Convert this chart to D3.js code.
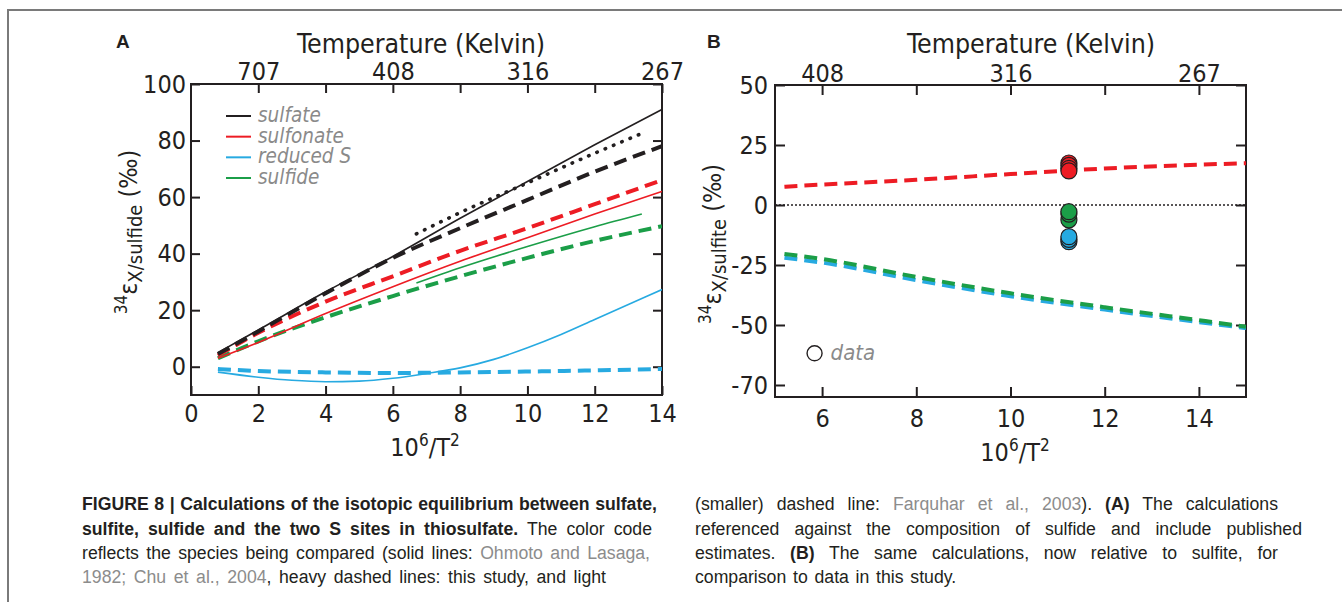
<!DOCTYPE html>
<html>
<head>
<meta charset="utf-8">
<script src="https://cdn.jsdelivr.net/npm/d3@7"></script>
<style>
  body { margin: 0; background: #fff; }
  svg { display: block; }
</style>
</head>
<body>
<div id="fig"></div>
<script>
// ---- panel A: epsilon relative to sulfide ----
const xA = [0.8, 2, 4, 6, 8, 10, 12, 14];
const sulfateOhmoto   = [5, 13, 26.5, 39, 52.5, 65.5, 78.5, 91];
const sulfateStudy    = [4.5, 12.5, 26, 38.5, 49, 59, 69, 78];
const sulfonateOhmoto = [3, 8.6, 18.8, 28.3, 37.3, 45.6, 54, 62];
const sulfonateStudy  = [4, 12, 23, 32, 41, 49, 57.5, 66];
const sulfideStudy    = [3, 9, 17.5, 25, 32, 38.5, 44.5, 49.7];
const reducedStudy    = [-0.8, -1.5, -2, -2.2, -2, -1.7, -1.3, -0.8];

const xReduced = [0.8, 2, 3, 4, 5, 6, 7, 8, 9, 10, 11, 12, 13, 14];
const reducedOhmoto = [-1.9, -3.7, -4.8, -5.3, -5.1, -4.1, -2.4, -0.4, 2.6, 6.7, 11.4, 16.7, 22, 27.3];

const xShort = [6.7, 8, 10, 12, 13.4];
const sulfateFarquhar = [47, 54.5, 65, 75.5, 82.5];
const sulfideOhmoto   = [29.6, 35, 42.5, 49.5, 54];

const legendNames = ["sulfate", "sulfonate", "reduced S", "sulfide"];

const xTicksA = [0, 2, 4, 6, 8, 10, 12, 14];
const yTicksA = [0, 20, 40, 60, 80, 100];
const tempTicksA = [2, 4, 6, 8, 10, 12, 14];
const tempLabelsA = ["707", "", "408", "", "316", "", "267"];

// ---- panel B: epsilon relative to sulfite ----
const xB = [5.2, 6, 8, 10, 12, 14, 15];
const sulfonateB = [7.6, 8.5, 10.5, 12.9, 15.2, 16.8, 17.4];
const sulfideB   = [-20.4, -22.5, -30, -36.8, -42.6, -48, -50.7];
const reducedB   = [-22, -24, -31.3, -38, -43.6, -48.8, -51.3];

const dataX = 11.24;
const dataRed   = [17.5, 16.5, 15.3, 14.2];
const dataGreen = [-6.2, -3.8, -2.8];
const dataBlue  = [-15.3, -14.3, -13.2];

const xTicksB = [6, 8, 10, 12, 14];
const yTicksB = [50, 25, 0, -25, -50, -75];
const yLabelsB = ["50", "25", "0", "-25", "-50", "-70"];
const tempTicksB = [6, 8, 10, 12, 14];
const tempLabelsB = ["408", "", "316", "", "267"];

const col = { black: "#231f20", red: "#ed1c24", blue: "#27aae1", green: "#1b9e48", gray: "#8a8a8a" };
const chartFont = "'DejaVu Sans Condensed', 'DejaVu Sans', sans-serif";

const W = 1342, H = 602;
const svg = d3.select("#fig").append("svg")
  .attr("width", W).attr("height", H)
  .style("font-family", chartFont);

svg.append("rect").attr("width", W).attr("height", H).attr("fill", "#fff");
svg.append("path")
  .attr("d", `M8,${H} V10 H${W}`)
  .attr("fill", "none").attr("stroke", "#7a7a7a").attr("stroke-width", 2);

function makePanel(o) {
  const g = svg.append("g");
  const x = d3.scaleLinear().domain(o.xDomain).range([o.left, o.right]);
  const y = d3.scaleLinear().domain(o.yDomain).range([o.bottom, o.top]);

  const styleAxis = sel => {
    sel.select(".domain").remove();
    sel.selectAll("line").attr("stroke", col.black).attr("stroke-width", 2);
    sel.selectAll("text").attr("fill", col.black).style("font-size", "25px").style("font-family", chartFont);
  };

  g.append("g").attr("transform", `translate(0,${o.bottom})`)
    .call(d3.axisBottom(x).tickValues(o.xTicks).tickSize(-o.tick).tickPadding(o.padB).tickFormat(d => d))
    .call(styleAxis);
  g.append("g").attr("transform", `translate(0,${o.top})`)
    .call(d3.axisTop(x).tickValues(o.tTicks).tickSize(-o.tick).tickPadding(o.padT)
      .tickFormat((d, i) => o.tLabels[i]))
    .call(styleAxis);
  g.append("g").attr("transform", `translate(${o.left},0)`)
    .call(d3.axisLeft(y).tickValues(o.yTicks).tickSize(-o.tick).tickPadding(o.padL)
      .tickFormat((d, i) => o.yLabels[i]))
    .call(styleAxis);
  g.append("g").attr("transform", `translate(${o.right},0)`)
    .call(d3.axisRight(y).tickValues(o.yTicks).tickSize(-o.tick).tickFormat(""))
    .call(styleAxis);

  g.append("rect")
    .attr("x", o.left).attr("y", o.top)
    .attr("width", o.right - o.left).attr("height", o.bottom - o.top)
    .attr("fill", "none").attr("stroke", col.black).attr("stroke-width", 2);

  // titles
  g.append("text").attr("x", o.titleX).attr("y", 53).attr("text-anchor", "middle")
    .style("font-size", "26.5px").attr("fill", col.black).text("Temperature (Kelvin)");

  const xt = g.append("text").attr("x", o.xTitleX).attr("y", o.xTitleY).attr("text-anchor", "middle")
    .style("font-size", "25px").attr("fill", col.black);
  xt.append("tspan").text("10");
  xt.append("tspan").attr("dy", -10).style("font-size", "17px").text("6");
  xt.append("tspan").attr("dy", 10).text("/T");
  xt.append("tspan").attr("dy", -10).style("font-size", "17px").text("2");

  const yt = g.append("text")
    .attr("transform", `translate(${o.yTitleX},${o.yTitleY}) rotate(-90)`)
    .attr("text-anchor", "middle").style("font-size", "25px").attr("fill", col.black);
  yt.append("tspan").attr("dy", -10).style("font-size", "17px").text("34");
  yt.append("tspan").attr("dy", 10).text("ε");
  yt.append("tspan").attr("dy", 5).style("font-size", "20px").text(o.sub);
  yt.append("tspan").attr("dy", -5).text(" (‰)");

  g.append("text").attr("x", o.letterX).attr("y", 48)
    .style("font-family", "'Liberation Sans', Arial, sans-serif")
    .style("font-size", "19px").style("font-weight", "bold").attr("fill", col.black).text(o.letter);

  const clip = "clip" + o.letter;
  g.append("clipPath").attr("id", clip).append("rect")
    .attr("x", o.left).attr("y", o.top).attr("width", o.right - o.left).attr("height", o.bottom - o.top);
  const plot = g.append("g").attr("clip-path", `url(#${clip})`);
  return { g, plot, x, y };
}

function drawLine(p, xs, ys, color, kind) {
  const line = d3.line().x((d, i) => p.x(xs[i])).y(d => p.y(d)).curve(d3.curveMonotoneX);
  const path = p.plot.append("path").datum(ys).attr("d", line)
    .attr("fill", "none").attr("stroke", color);
  if (kind === "solid") path.attr("stroke-width", 1.6);
  if (kind === "dash") path.attr("stroke-width", 4).attr("stroke-dasharray", "13,7");
  if (kind === "dot") path.attr("stroke-width", 3.6).attr("stroke-dasharray", "0.5,8.5").attr("stroke-linecap", "round");
  return path;
}

// ---- panel A ----
const pA = makePanel({
  letter: "A", letterX: 116,
  left: 191, right: 662, top: 84, bottom: 395,
  xDomain: [0, 14], yDomain: [-10, 100],
  xTicks: xTicksA, yTicks: yTicksA, yLabels: yTicksA.map(String),
  tTicks: tempTicksA, tLabels: tempLabelsA,
  tick: 9, padB: 9, padT: 4, padL: 5,
  titleX: 421, xTitleX: 425, xTitleY: 456,
  yTitleX: 137, yTitleY: 232, sub: "X/sulfide"
});

drawLine(pA, xReduced, reducedOhmoto, col.blue, "solid");
drawLine(pA, xA, reducedStudy, col.blue, "dash");
drawLine(pA, xA, sulfideStudy, col.green, "dash");
drawLine(pA, xShort, sulfideOhmoto, col.green, "solid");
drawLine(pA, xA, sulfonateStudy, col.red, "dash");
drawLine(pA, xA, sulfonateOhmoto, col.red, "solid");
drawLine(pA, xA, sulfateStudy, col.black, "dash");
drawLine(pA, xA, sulfateOhmoto, col.black, "solid");
drawLine(pA, xShort, sulfateFarquhar, col.black, "dot");

const legendColors = [col.black, col.red, col.blue, col.green];
const legY = d3.scalePoint().domain(legendNames).range([116, 178]);
const leg = pA.g.append("g");
leg.selectAll("line").data(legendNames).join("line")
  .attr("x1", 226).attr("x2", 251)
  .attr("y1", d => legY(d)).attr("y2", d => legY(d))
  .attr("stroke", (d, i) => legendColors[i]).attr("stroke-width", 2);
leg.selectAll("text").data(legendNames).join("text")
  .attr("x", 258).attr("y", d => legY(d) + 6)
  .style("font-size", "20.5px").style("font-style", "italic")
  .attr("fill", col.gray).text(d => d);

// ---- panel B ----
const pB = makePanel({
  letter: "B", letterX: 707,
  left: 775, right: 1246, top: 85, bottom: 397,
  xDomain: [5, 15], yDomain: [-80, 50],
  xTicks: xTicksB, yTicks: yTicksB, yLabels: yLabelsB,
  tTicks: tempTicksB, tLabels: tempLabelsB,
  tick: 10, padB: 12, padT: 3, padL: 7,
  titleX: 1031, xTitleX: 1015, xTitleY: 461,
  yTitleX: 721, yTitleY: 244, sub: "X/sulfite"
});

pB.plot.append("line")
  .attr("x1", pB.x(5)).attr("x2", pB.x(15))
  .attr("y1", pB.y(0)).attr("y2", pB.y(0))
  .attr("stroke", col.black).attr("stroke-width", 1.6).attr("stroke-dasharray", "2,2");

drawLine(pB, xB, sulfonateB, col.red, "dash");
drawLine(pB, xB, reducedB, col.blue, "dash");
drawLine(pB, xB, sulfideB, col.green, "dash");

const groups = [[dataRed, col.red], [dataGreen, col.green], [dataBlue, col.blue]];
groups.forEach(([vals, c]) => {
  pB.plot.selectAll(null).data(vals).join("circle")
    .attr("cx", pB.x(dataX)).attr("cy", d => pB.y(d)).attr("r", 8)
    .attr("fill", c).attr("stroke", col.black).attr("stroke-width", 1.2);
});

pB.g.append("circle")
  .attr("cx", pB.x(5.84)).attr("cy", pB.y(-61.8)).attr("r", 7.5)
  .attr("fill", "none").attr("stroke", col.black).attr("stroke-width", 1.4);
pB.g.append("text")
  .attr("x", pB.x(6.18)).attr("y", pB.y(-61.8) + 7)
  .style("font-size", "22px").style("font-style", "italic")
  .attr("fill", col.gray).text("data");

// ---- caption (narrow sans: Liberation Sans squeezed horizontally) ----
const capFont = "'Liberation Sans', Arial, sans-serif";
const capScale = 0.93;
const capLeft = [
  [["b", "FIGURE 8 | Calculations of the isotopic equilibrium between sulfate,"]],
  [["b", "sulfite, sulfide and the two S sites in thiosulfate."], ["n", " The color code"]],
  [["n", "reflects the species being compared (solid lines: "], ["g", "Ohmoto and Lasaga,"]],
  [["g", "1982; Chu et al., 2004"], ["n", ", heavy dashed lines: this study, and light"]]
];
const capRight = [
  [["n", "(smaller) dashed line: "], ["g", "Farquhar et al., 2003"], ["n", "). "], ["b", "(A)"], ["n", " The calculations"]],
  [["n", "referenced against the composition of sulfide and include published"]],
  [["n", "estimates. "], ["b", "(B)"], ["n", " The same calculations, now relative to sulfite, for"]],
  [["n", "comparison to data in this study."]]
];
const capLeftWidths = [575, 570, 568, 524];
const capRightWidths = [583, 607, 583, 0];
const capBaselines = [510, 534.5, 558.5, 583];

function caption(lines, widths, x0) {
  lines.forEach((segs, i) => {
    const t = svg.append("text")
      .attr("transform", `translate(${x0},${capBaselines[i]}) scale(${capScale},1)`)
      .style("font-family", capFont).style("font-size", "19px")
      .style("white-space", "pre").attr("fill", col.black);
    segs.forEach(([k, s]) => {
      const sp = t.append("tspan").text(s);
      if (k === "b") sp.style("font-weight", "bold");
      if (k === "g") sp.attr("fill", "#8c8c8c");
    });
    const target = widths[i] / capScale;
    const full = segs.map(s => s[1]).join("");
    const spaces = (full.match(/ /g) || []).length;
    const len = t.node().getComputedTextLength();
    if (widths[i] && spaces) t.style("word-spacing", ((target - len) / spaces) + "px");
    else if (spaces) t.style("word-spacing", "2px");
  });
}
caption(capLeft, capLeftWidths, 82);
caption(capRight, capRightWidths, 695);
</script>
</body>
</html>
